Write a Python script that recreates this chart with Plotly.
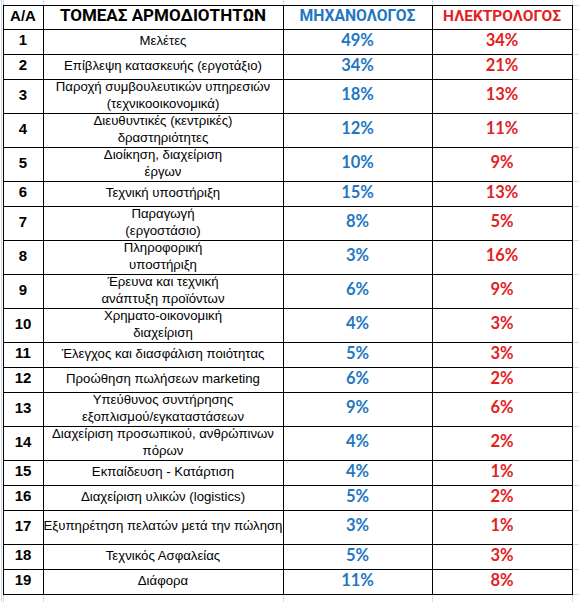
import plotly.graph_objects as go

headers = ["A/A", "ΤΟΜΕΑΣ ΑΡΜΟΔΙΟΤΗΤΩΝ", "ΜΗΧΑΝΟΛΟΓΟΣ", "ΗΛΕΚΤΡΟΛΟΓΟΣ"]
row_ids = [str(i) for i in range(1, 20)]
sectors = [
    "Μελέτες",
    "Επίβλεψη κατασκευής (εργοτάξιο)",
    "Παροχή συμβουλευτικών υπηρεσιών<br>(τεχνικοοικονομικά)",
    "Διευθυντικές (κεντρικές)<br>δραστηριότητες",
    "Διοίκηση, διαχείριση<br>έργων",
    "Τεχνική υποστήριξη",
    "Παραγωγή<br>(εργοστάσιο)",
    "Πληροφορική<br>υποστήριξη",
    "Έρευνα και τεχνική<br>ανάπτυξη προϊόντων",
    "Χρηματο-οικονομική<br>διαχείριση",
    "Έλεγχος και διασφάλιση ποιότητας",
    "Προώθηση πωλήσεων marketing",
    "Υπεύθυνος συντήρησης<br>εξοπλισμού/εγκαταστάσεων",
    "Διαχείριση προσωπικού, ανθρώπινων<br>πόρων",
    "Εκπαίδευση - Κατάρτιση",
    "Διαχείριση υλικών (logistics)",
    "Εξυπηρέτηση πελατών μετά την πώληση",
    "Τεχνικός Ασφαλείας",
    "Διάφορα",
]
mechanical = [49, 34, 18, 12, 10, 15, 8, 3, 6, 4, 5, 6, 9, 4, 4, 5, 3, 5, 11]
electrical = [34, 21, 13, 11, 9, 13, 5, 16, 9, 3, 3, 2, 6, 2, 1, 2, 1, 3, 8]

# ---------------- styling / layout ----------------
W, H = 579, 602
BLUE = "#1F77C3"
RED = "#E3211F"
CAL = "Lato, Carlito, 'Liberation Sans', sans-serif"
GREEK_HEAD = "Roboto, 'Liberation Sans', sans-serif"
ARIAL = "'Liberation Sans', Arial, sans-serif"
GRID = "#D4DBE8"

col_edges = [3, 43, 283, 432, 572]
col_mid = [(a + b) / 2 for a, b in zip(col_edges[:-1], col_edges[1:])]
top, header_h, single_h, double_h = 5, 24, 25, 34

# row heights follow the number of text lines (row 17 is wrapped in the sheet)
n_lines = [s.count("<br>") + 1 for s in sectors]
n_lines[16] = 2
row_edges = [top, top + header_h]
for n in n_lines:
    row_edges.append(row_edges[-1] + (single_h if n == 1 else double_h))
row_mid = [(a + b) / 2 for a, b in zip(row_edges[1:-1], row_edges[2:])]
head_mid = (row_edges[0] + row_edges[1]) / 2

fig = go.Figure()

# header texts
head_fonts = [
    dict(family=ARIAL, size=15, color="black"),
    dict(family=GREEK_HEAD, size=17, color="black"),
    dict(family=GREEK_HEAD, size=15.7, color=BLUE),
    dict(family=GREEK_HEAD, size=15.5, color=RED),
]
for x, h, f in zip(col_mid, headers, head_fonts):
    fig.add_trace(go.Scatter(x=[x], y=[head_mid], mode="text",
                             text=[f"<b>{h}</b>"], textposition="middle center",
                             textfont=f, hoverinfo="skip", showlegend=False))

columns = [
    ([f"<b>{r}</b>" for r in row_ids], dict(family=ARIAL, size=15, color="black")),
    (sectors, dict(family=ARIAL, size=13.2, color="black")),
    ([f"<b>{v}%</b>" for v in mechanical], dict(family=CAL, size=16.5, color=BLUE)),
    ([f"<b>{v}%</b>" for v in electrical], dict(family=CAL, size=16.5, color=RED)),
]
for x, (vals, f) in zip(col_mid, columns):
    fig.add_trace(go.Scatter(x=[x] * len(vals), y=row_mid, mode="text",
                             text=vals, textposition="middle center",
                             textfont=f, hoverinfo="skip", showlegend=False))

shapes = []
# faint spreadsheet gridlines outside the table
for y in row_edges:
    shapes.append(dict(type="line", x0=col_edges[-1], x1=W, y0=y + 0.5, y1=y + 0.5,
                       line=dict(color=GRID, width=1)))
for x in col_edges:
    shapes.append(dict(type="line", x0=x + 0.5, x1=x + 0.5, y0=row_edges[-1], y1=H,
                       line=dict(color=GRID, width=1)))
    shapes.append(dict(type="line", x0=x + 0.5, x1=x + 0.5, y0=0, y1=top,
                       line=dict(color=GRID, width=1)))
shapes.append(dict(type="line", x0=1.5, x1=1.5, y0=0, y1=H, line=dict(color=GRID, width=1)))
# table borders
for y in row_edges:
    shapes.append(dict(type="line", x0=col_edges[0], x1=col_edges[-1] + 1,
                       y0=y + 0.5, y1=y + 0.5, line=dict(color="black", width=1)))
for x in col_edges:
    shapes.append(dict(type="line", x0=x + 0.5, x1=x + 0.5,
                       y0=row_edges[0], y1=row_edges[-1] + 1,
                       line=dict(color="black", width=1)))

fig.update_layout(
    width=W, height=H, margin=dict(l=0, r=0, t=0, b=0),
    paper_bgcolor="white", plot_bgcolor="white",
    xaxis=dict(range=[0, W], visible=False, fixedrange=True),
    yaxis=dict(range=[H, 0], visible=False, fixedrange=True),
    shapes=shapes,
)
fig.write_html("out.html", config=dict(displayModeBar=False),
               post_script="document.body.style.margin='0px';")
